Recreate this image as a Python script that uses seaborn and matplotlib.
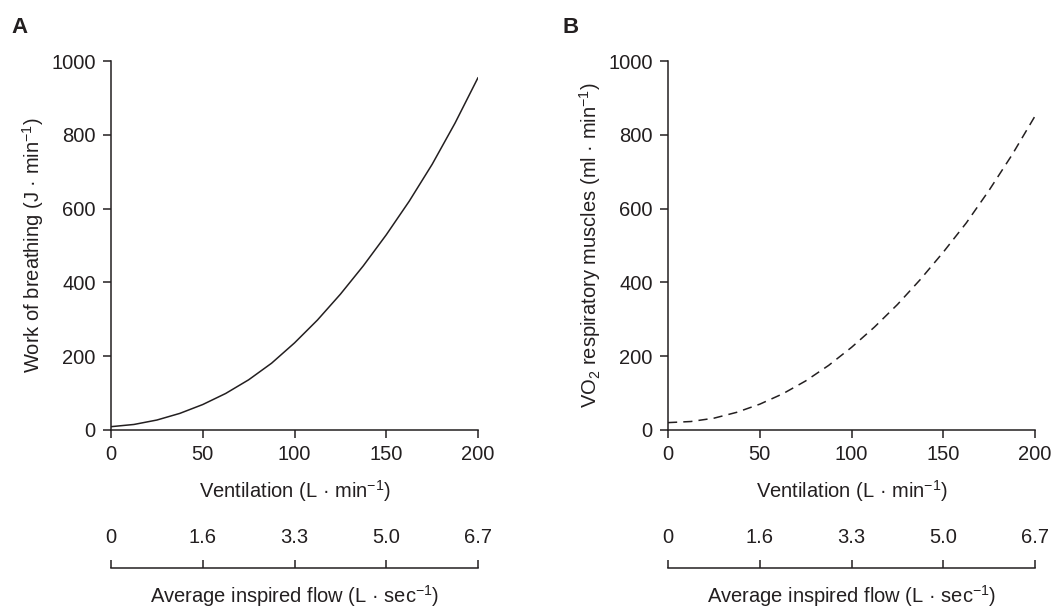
import matplotlib
matplotlib.use('Agg')
import matplotlib.pyplot as plt
import seaborn as sns

# curves
ventilation = [0, 12.5, 25, 37.5, 50, 62.5, 75, 87.5, 100, 112.5, 125, 137.5, 150, 162.5, 175, 187.5, 200]
work_breathing = [9, 15, 27, 45, 69, 99, 136, 181, 236, 298, 368, 445, 529, 620, 720, 832, 955]
vo2_muscles = [20, 23, 32, 48, 70, 98, 133, 175, 224, 279, 340, 408, 482, 561, 650, 746, 851]

vent_ticks = [0, 50, 100, 150, 200]
flow_labels = ['0', '1.6', '3.3', '5.0', '6.7']
y_ticks = [0, 200, 400, 600, 800, 1000]

sns.set_style('ticks')
plt.rcParams['font.family'] = ['Liberation Sans', 'DejaVu Sans']
plt.rcParams['mathtext.fontset'] = 'custom'
plt.rcParams['mathtext.rm'] = 'Liberation Sans'
plt.rcParams['mathtext.it'] = 'Liberation Sans'

ink = '#231f20'
fs = 14.5

fig = plt.figure(figsize=(10.59, 6.07), dpi=100)

panels = [
    (0.1048, 'A', work_breathing, '-', 'Work of breathing (J · min$^{-1}$)'),
    (0.6308, 'B', vo2_muscles, (0, (6, 4)), 'VO$_2$ respiratory muscles (ml · min$^{-1}$)'),
]
w = 0.3466

for left, letter, vals, ls, ylab in panels:
    ax = fig.add_axes([left, 0.2916, w, 0.6079])
    sns.lineplot(x=ventilation, y=vals, ax=ax, color=ink, lw=1.1, linestyle=ls)
    ax.set_xlim(0, 200)
    ax.set_ylim(0, 1000)
    ax.set_xticks(vent_ticks)
    ax.set_yticks(y_ticks)
    ax.tick_params(labelsize=fs, colors=ink, length=6, width=1.1, direction='out', pad=5)
    for s in ['top', 'right']:
        ax.spines[s].set_visible(False)
    for s in ['left', 'bottom']:
        ax.spines[s].set_color(ink)
        ax.spines[s].set_linewidth(1.1)
    ax.set_xlabel('Ventilation (L · min$^{-1}$)', fontsize=fs, color=ink, labelpad=10)
    ax.set_ylabel(ylab, fontsize=fs, color=ink, labelpad=4)

    # second scale: average inspired flow
    ax2 = fig.add_axes([left, 0.0643, w, 0.0001])
    ax2.set_xlim(0, 200)
    ax2.set_yticks([])
    ax2.xaxis.set_ticks_position('top')
    ax2.set_xticks(vent_ticks)
    ax2.set_xticklabels(flow_labels)
    ax2.tick_params(labelsize=fs, colors=ink, length=6, width=1.1, direction='out', pad=9)
    for s in ['left', 'right', 'bottom']:
        ax2.spines[s].set_visible(False)
    ax2.spines['top'].set_color(ink)
    ax2.spines['top'].set_linewidth(1.1)
    ax2.patch.set_visible(False)
    fig.text(left + w / 2, 0.018, 'Average inspired flow (L · sec$^{-1}$)',
             ha='center', va='center', fontsize=fs, color=ink)

fig.text(0.011, 0.955, 'A', fontsize=16, fontweight='bold', color=ink, va='center')
fig.text(0.531, 0.955, 'B', fontsize=16, fontweight='bold', color=ink, va='center')

fig.savefig('out.png', dpi=100)
